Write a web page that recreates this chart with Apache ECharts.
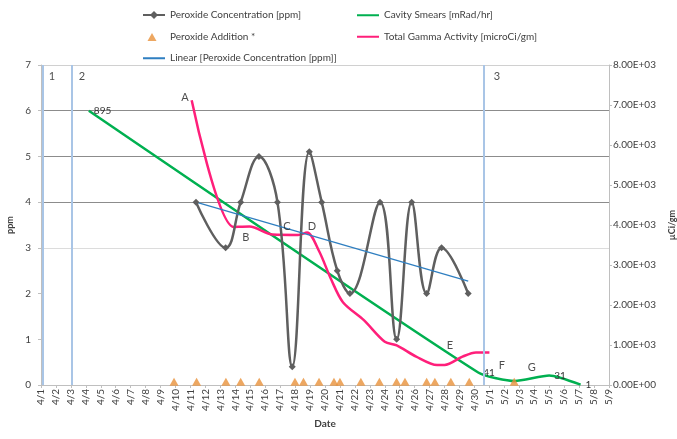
<!DOCTYPE html>
<html>
<head>
<meta charset="utf-8">
<script src="https://cdn.jsdelivr.net/npm/echarts@6/dist/echarts.min.js"></script>
<style>
  html, body { margin: 0; padding: 0; background: #fff; }
  #main { width: 677px; height: 439px; }
</style>
</head>
<body>
<div id="main"></div>
<script>
const dateLabels = [
  '4/1', '4/2', '4/3', '4/4', '4/5', '4/6', '4/7', '4/8', '4/9', '4/10',
  '4/11', '4/12', '4/13', '4/14', '4/15', '4/16', '4/17', '4/18', '4/19', '4/20',
  '4/21', '4/22', '4/23', '4/24', '4/25', '4/26', '4/27', '4/28', '4/29', '4/30',
  '5/1', '5/2', '5/3', '5/4', '5/5', '5/6', '5/7', '5/8', '5/9'
]

// days counted from 4/1 (0 = 4/1)
const peroxideDays = [10.37, 12.35, 13.36, 14.58, 15.82, 16.81, 17.95, 18.78, 19.82, 20.67, 22.68, 23.79, 24.8, 25.8, 26.8, 28.58]
const peroxidePpm = [4, 3, 4, 5, 4, 0.4, 5.1, 4, 2.5, 2, 4, 1, 4, 2, 3, 2]

const additionDays = [8.9, 10.41, 12.37, 13.36, 14.6, 16.99, 17.56, 18.6, 19.6, 20.0, 21.4, 22.64, 23.79, 24.35, 25.8, 26.35, 27.42, 28.65, 31.66]
const additionPpm = [0.07, 0.07, 0.07, 0.07, 0.07, 0.07, 0.07, 0.07, 0.07, 0.07, 0.07, 0.07, 0.07, 0.07, 0.07, 0.07, 0.07, 0.07, 0.07]

const trendDays = [10.37, 28.58]
const trendPpm = [4.0, 2.27]

const smearDays = [3.2, 29.25, 31.7, 34.0, 36.1]
const smearMrad = [895, 41, 13, 31, 1]
const smearLabelled = [true, true, false, true, true]

const gammaDays = [10.08, 12.9, 13.95, 15.5, 17.2, 17.8, 18.6, 19.4, 20.2, 21.6, 23.0, 23.8, 25.1, 26.5, 27.0, 28.2, 29.1, 30.0]
const gammaActivity = [7120, 3950, 3960, 3760, 3750, 3810, 3350, 2650, 2070, 1620, 1080, 990, 710, 500, 500, 710, 815, 815]

const noteLetters = ['A', 'B', 'C', 'D', 'E', 'F', 'G']
const noteDays = [9.63, 13.71, 16.45, 18.13, 27.36, 30.84, 32.84]
const noteActivity = [7200, 3700, 3975, 3975, 1000, 500, 450]

const phaseNames = ['1', '2', '3']
const phaseStartDays = [0.11, 2.05, 29.63]
const phaseLabelDays = [0.74, 2.74, 30.5]
const phaseLabelPpm = [6.76, 6.76, 6.76]

const zip = (xs, ys) => xs.map((x, i) => [x, ys[i]])

const chart = echarts.init(document.getElementById('main'))
const font = 'Lato'
const textColor = '#404040'

// legend keys drawn in a 22x10 box
const lineIcon = 'path://M0,0 L0.01,0 Z M22,10 L21.99,10 Z M0,4.2 L22,4.2 L22,6.2 L0,6.2 Z'
const triangleIcon = 'path://M0,0 L0.01,0 Z M22,10 L21.99,10 Z M9,1.5 L13.5,9.5 L4.5,9.5 Z'

const legendBase = {
  top: 9,
  padding: 0,
  orient: 'vertical',
  itemWidth: 22,
  itemHeight: 10,
  itemGap: 9.5,
  textStyle: { fontSize: 10, color: textColor, lineHeight: 12 }
}

const option = {
  animation: false,
  textStyle: { fontFamily: font },
  legend: [
    Object.assign({}, legendBase, {
      left: 142,
      data: [
        { name: 'Peroxide Concentration [ppm]' },
        { name: 'Peroxide Addition *', icon: triangleIcon },
        { name: 'Linear [Peroxide Concentration [ppm]]', icon: lineIcon }
      ]
    }),
    Object.assign({}, legendBase, {
      left: 357,
      data: [
        { name: 'Cavity Smears [mRad/hr]', icon: lineIcon },
        { name: 'Total Gamma Activity [microCi/gm]', icon: lineIcon }
      ]
    })
  ],
  grid: { left: 41, right: 68, top: 65, bottom: 54, outerBoundsMode: 'none' },
  xAxis: {
    type: 'value',
    min: 0,
    max: 38,
    interval: 1,
    name: 'Date',
    nameLocation: 'middle',
    nameGap: 32,
    nameTextStyle: { fontSize: 10, fontWeight: 'bold', color: textColor },
    axisLine: { lineStyle: { color: '#bfbfbf' } },
    axisTick: { show: true, length: 3, lineStyle: { color: '#bfbfbf' } },
    axisLabel: {
      rotate: 90,
      fontSize: 10,
      margin: 4,
      color: textColor,
      formatter: v => dateLabels[Math.round(v)] || ''
    },
    splitLine: { show: false }
  },
  yAxis: [
    {
      type: 'value',
      min: 0,
      max: 7,
      interval: 1,
      name: 'ppm',
      nameLocation: 'middle',
      nameRotate: 90,
      nameGap: 24,
      nameTextStyle: { fontSize: 9, fontWeight: 'bold', color: textColor },
      axisLine: { show: true, lineStyle: { color: '#bfbfbf' } },
      axisTick: { show: true, length: 3, lineStyle: { color: '#bfbfbf' } },
      axisLabel: { fontSize: 10, color: textColor, margin: 10 },
      splitLine: {
        show: true,
        lineStyle: {
          width: 1.2,
          color: ['#bfbfbf', 'rgba(0,0,0,0)', 'rgba(0,0,0,0)', '#dcdcdc', '#8c8c8c', '#8c8c8c', '#8c8c8c', '#d0d0d0']
        }
      }
    },
    {
      type: 'value',
      min: 0,
      max: 8000,
      interval: 1000,
      position: 'right',
      name: 'µCi/gm',
      nameLocation: 'middle',
      nameRotate: 90,
      nameGap: 59,
      nameTextStyle: { fontSize: 9, fontWeight: 'bold', color: textColor },
      axisLine: { show: true, lineStyle: { color: '#bfbfbf' } },
      axisTick: { show: true, length: 3, lineStyle: { color: '#bfbfbf' } },
      axisLabel: {
        fontSize: 10,
        color: textColor,
        margin: 4,
        formatter: v => v.toExponential(2).toUpperCase().replace(/E([+-])(\d)$/, 'E$10$2')
      },
      splitLine: { show: false }
    },
    {
      // hidden scale for the cavity smears
      type: 'value',
      min: 0,
      max: 1044,
      show: false,
      splitLine: { show: false }
    }
  ],
  series: [
    {
      name: 'phases',
      type: 'scatter',
      yAxisIndex: 0,
      symbolSize: 1,
      itemStyle: { color: 'rgba(0,0,0,0)' },
      silent: true,
      z: 1,
      label: {
        show: true,
        position: 'inside',
        fontSize: 11,
        color: '#222',
        formatter: p => p.name
      },
      data: phaseNames.map((n, i) => ({ name: n, value: [phaseLabelDays[i], phaseLabelPpm[i]] })),
      markLine: {
        silent: true,
        symbol: ['none', 'none'],
        label: { show: false },
        lineStyle: { color: '#a9c5e6', width: 2, type: 'solid' },
        data: phaseStartDays.map(d => ({ xAxis: d }))
      }
    },
    {
      name: 'Peroxide Concentration [ppm]',
      type: 'line',
      yAxisIndex: 0,
      smooth: 0.4,
      symbol: 'diamond',
      symbolSize: 7,
      color: '#5f5f5f',
      lineStyle: { width: 2.5, color: '#5f5f5f' },
      itemStyle: { color: '#5f5f5f' },
      z: 3,
      data: zip(peroxideDays, peroxidePpm)
    },
    {
      name: 'Cavity Smears [mRad/hr]',
      type: 'line',
      yAxisIndex: 2,
      smooth: 0.2,
      symbol: 'circle',
      symbolSize: 0.01,
      showSymbol: true,
      color: '#00b050',
      lineStyle: { width: 2.5, color: '#00b050' },
      itemStyle: { color: '#00b050' },
      label: {
        show: true,
        position: 'right',
        distance: 5,
        fontSize: 10,
        color: '#333'
      },
      z: 2,
      data: smearDays.map((d, i) => ({
        value: [d, smearMrad[i]],
        label: { show: smearLabelled[i] }
      }))
    },
    {
      name: 'Peroxide Addition *',
      type: 'scatter',
      yAxisIndex: 0,
      symbol: 'triangle',
      symbolSize: [9, 8],
      itemStyle: { color: '#e8913a' },
      z: 4,
      data: zip(additionDays, additionPpm)
    },
    {
      name: 'Total Gamma Activity [microCi/gm]',
      type: 'line',
      yAxisIndex: 1,
      smooth: 0.3,
      symbol: 'none',
      color: '#ff1f7a',
      lineStyle: { width: 2.5, color: '#ff1f7a' },
      z: 2,
      data: zip(gammaDays, gammaActivity)
    },
    {
      name: 'Linear [Peroxide Concentration [ppm]]',
      type: 'line',
      yAxisIndex: 0,
      symbol: 'none',
      color: '#2f7fc1',
      lineStyle: { width: 1.3, color: '#2f7fc1' },
      z: 3,
      data: zip(trendDays, trendPpm)
    },
    {
      name: 'notes',
      type: 'scatter',
      yAxisIndex: 1,
      symbolSize: 1,
      itemStyle: { color: 'rgba(0,0,0,0)' },
      silent: true,
      z: 5,
      label: {
        show: true,
        position: 'inside',
        fontSize: 11,
        color: '#222',
        formatter: p => p.name
      },
      data: noteLetters.map((n, i) => ({ name: n, value: [noteDays[i], noteActivity[i]] }))
    }
  ]
}

chart.setOption(option)
</script>
</body>
</html>
